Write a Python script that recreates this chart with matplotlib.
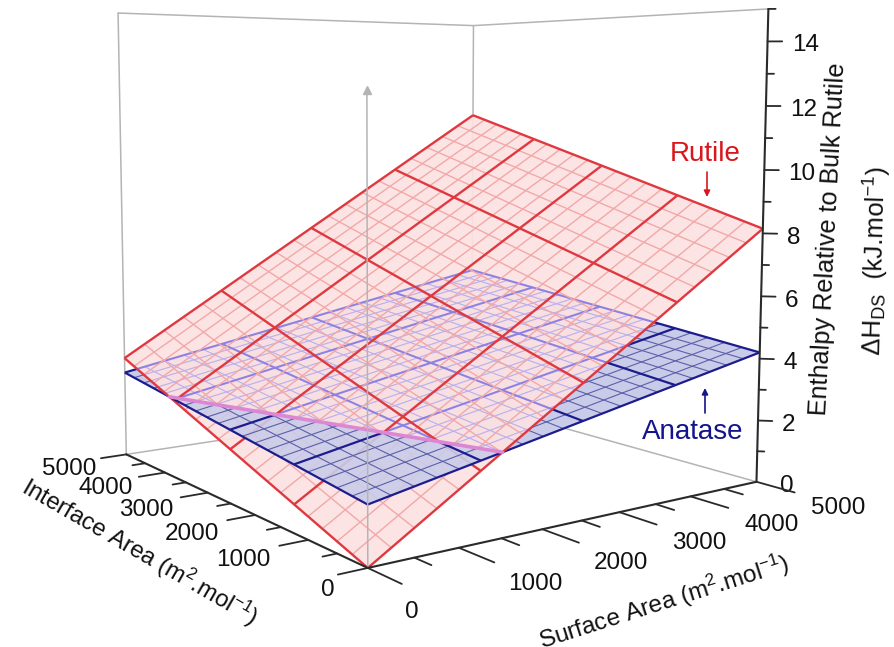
import numpy as np
import matplotlib
matplotlib.use("Agg")
import matplotlib.pyplot as plt
from mpl_toolkits.mplot3d import proj3d
from mpl_toolkits.mplot3d.art3d import Line3DCollection, Poly3DCollection
from matplotlib.path import Path
from matplotlib.transforms import IdentityTransform

plt.rcParams['font.family'] = ['Liberation Sans', 'DejaVu Sans']
plt.rcParams['mathtext.fontset'] = 'custom'
plt.rcParams['mathtext.rm'] = 'Liberation Sans'
plt.rcParams['mathtext.default'] = 'regular'

W, H = 895, 647

# corner heights: (0,0), (5000,0), (0,5000), (5000,5000)
rutile_z = [0.0, 8.15, 3.35, 11.5]
anatase_z = [1.7, 4.2, 2.85, 5.35]
area_ticks = [0, 1000, 2000, 3000, 4000, 5000]
area_minor = [500, 1500, 2500, 3500, 4500]
enthalpy_ticks = [2, 4, 6, 8, 10, 12, 14]
enthalpy_minor = [1, 3, 5, 7, 9, 11, 13]
grid_major = [0, 1250, 2500, 3750, 5000]
grid_minor = [250, 500, 750, 1000, 1500, 1750, 2000, 2250, 2750, 3000, 3250, 3500,
              4000, 4250, 4500, 4750]

RED, RED_MINOR = '#e0383f', '#f2a8a8'
BLUE, BLUE_MINOR = '#1c1c8e', '#5c5fa8'
LAV, LAV_MINOR = '#8c80e4', '#bcb0ec'
GRAY = '#b4b4b4'
AXC = '#2a2a2a'
TXT = '#111111'


def height(c, x, y):
    u, v = x / 5000.0, y / 5000.0
    return c[0]*(1-u)*(1-v) + c[1]*u*(1-v) + c[2]*(1-u)*v + c[3]*u*v


def diff(x, y):
    return height(rutile_z, x, y) - height(anatase_z, x, y)


def clip_poly(poly, sign):
    # keep the part of a polygon on one side of the plane crossing
    out = []
    for i in range(len(poly)):
        a, b = poly[i], poly[(i + 1) % len(poly)]
        da, db = sign * diff(*a), sign * diff(*b)
        if da >= 0:
            out.append(a)
        if da * db < 0:
            t = da / (da - db)
            out.append((a[0] + t * (b[0] - a[0]), a[1] + t * (b[1] - a[1])))
    return out


def clip_seg(a, b, sign):
    da, db = sign * diff(*a), sign * diff(*b)
    if da < 0 and db < 0:
        return None
    if da * db < 0:
        t = da / (da - db)
        m = (a[0] + t * (b[0] - a[0]), a[1] + t * (b[1] - a[1]))
        return (a, m) if da > 0 else (m, b)
    return (a, b)


def grid_segs(c, values, sign=0):
    segs = []
    for g in values:
        for a, b in (((g, 0), (g, 5000)), ((0, g), (5000, g))):
            s = (a, b) if sign == 0 else clip_seg(a, b, sign)
            if s is not None:
                segs.append([(p[0], p[1], height(c, p[0], p[1])) for p in s])
    return segs


def fill(c, poly, color, alpha, z):
    verts = [[(p[0], p[1], height(c, p[0], p[1])) for p in poly]]
    pc = Poly3DCollection(verts, facecolors=color, edgecolors='none', alpha=alpha, zorder=z)
    ax.add_collection3d(pc)
    return pc


def lines(segs, color, lw, z):
    lc = Line3DCollection(segs, colors=color, linewidths=lw, zorder=z)
    ax.add_collection3d(lc)
    return lc


def seg3(p, q, color, lw, z=10):
    ax.plot([p[0], q[0]], [p[1], q[1]], [p[2], q[2]], color=color, lw=lw, zorder=z,
            clip_on=False, solid_capstyle='round')


fig = plt.figure(figsize=(W / 100, H / 100), dpi=100)
L = 0.185 * 4165.28
ax = fig.add_axes([35.43 / W, 8.39 / H, L / W, L / H], projection='3d')
ax.set_xlim(0, 5000, view_margin=0)
ax.set_ylim(0, 5000, view_margin=0)
ax.set_zlim(0, 15, view_margin=0)
ax.set_axis_off()
ax.patch.set_alpha(0)
ax.computed_zorder = False
ax.view_init(5.8063, -125.923, -0.1426)
ax.set_proj_type('persp', focal_length=0.3567)
ax.set_box_aspect((1, 1.0062, 1.0048))

# back frame
for p, q in [((0, 5000, 0), (5000, 5000, 0)), ((5000, 5000, 0), (5000, 0, 0)),
             ((0, 5000, 0), (0, 5000, 15)), ((5000, 5000, 0), (5000, 5000, 15)),
             ((0, 5000, 15), (5000, 5000, 15)), ((5000, 5000, 15), (5000, 0, 15))]:
    seg3(p, q, GRAY, 1.1, z=1)

square = [(0, 0), (5000, 0), (5000, 5000), (0, 5000)]
low = clip_poly(square, 1)
high = clip_poly(square, -1)

# anatase under the rutile sheet
fill(anatase_z, low, '#c9cce9', 1.0, 2)
lines(grid_segs(anatase_z, grid_minor, 1), BLUE_MINOR, 0.8, 3)
lines(grid_segs(anatase_z, grid_major, 1), BLUE, 1.6, 3)

# rutile sheet
fill(rutile_z, square, '#fce2e2', 0.93, 4)

# anatase lines seen through the rutile sheet
ax.apply_aspect()
ax.M = ax.get_proj()
sx = np.array([p[0] for p in square], float)
sy = np.array([p[1] for p in square], float)
sz = np.array([height(rutile_z, a, b) for a, b in square])
px, py, _ = proj3d.proj_transform(sx, sy, sz, ax.M)
disp = ax.transData.transform(np.column_stack([px, py]))
red_path = Path(np.vstack([disp, disp[0]]), closed=True)
for segs, col, lw in [(grid_segs(anatase_z, grid_minor, 1), LAV_MINOR, 0.8),
                      (grid_segs(anatase_z, grid_major, 1), LAV, 1.4)]:
    lc = lines(segs, col, lw, 5)
    lc.set_clip_path(red_path, IdentityTransform())

lines(grid_segs(rutile_z, grid_minor), RED_MINOR, 1.0, 6)
lines(grid_segs(rutile_z, grid_major), RED, 1.7, 6)

# anatase poking above the rutile sheet
fill(anatase_z, high, '#c9cce9', 0.9, 7)
lines(grid_segs(anatase_z, grid_minor, -1), BLUE_MINOR, 0.8, 8)
lines(grid_segs(anatase_z, grid_major, -1), BLUE, 1.6, 8)

# crossing line
c1 = [p for p in high if abs(diff(*p)) < 1e-6]
seg3((c1[0][0], c1[0][1], height(rutile_z, *c1[0])), (c1[1][0], c1[1][1], height(rutile_z, *c1[1])),
     '#dc86d4', 2.6, z=9)

# grey vertical arrow at the front corner
seg3((0, 0, 0), (0, 0, 12.45), GRAY, 1.1, z=9)
ax.plot([0], [0], [12.45], marker='^', ms=5.5, color=GRAY, zorder=9, clip_on=False)

# axes
seg3((0, 0, 0), (0, 5000, 0), AXC, 1.5)
seg3((0, 0, 0), (5000, 0, 0), AXC, 1.5)
seg3((5000, 0, 0), (5000, 0, 15), AXC, 1.5)

for v in area_ticks:
    seg3((0, v, 0), (-310, v, 0), AXC, 1.3)
    seg3((v, 0, 0), (v, -520, 0), AXC, 1.3)
for v in area_minor:
    seg3((0, v, 0), (-155, v, 0), AXC, 1.3)
    seg3((v, 0, 0), (v, -260, 0), AXC, 1.3)
for v in enthalpy_ticks:
    seg3((5000, 0, v), (5105, -105, v), AXC, 1.3)
for v in enthalpy_minor + [15]:
    seg3((5000, 0, v), (5052, -52, v), AXC, 1.3)

TF = 17.5
for v in area_ticks[1:]:
    ax.text(-690, v, -0.2, str(v), fontsize=TF, ha='center', va='center', color=TXT, clip_on=False)
    ax.text(v, -1080, -0.12, str(v), fontsize=TF, ha='center', va='center', color=TXT, clip_on=False)
ax.text(-520, -170, -0.15, "0", fontsize=TF, ha='center', va='center', color=TXT, clip_on=False)
ax.text(-270, -1050, -0.1, "0", fontsize=TF, ha='center', va='center', color=TXT, clip_on=False)
for v in enthalpy_ticks + [0]:
    ax.text(5175, -175, v - 0.12, str(v), fontsize=TF, ha='left', va='center', color=TXT, clip_on=False)

fig.text(140 / W, 1 - 552 / H, r"Interface Area (m$^{2}$.mol$^{-1}$)", fontsize=17.2, rotation=-30,
         rotation_mode='anchor', ha='center', va='center', color=TXT)
fig.text(664 / W, 1 - 602 / H, r"Surface Area (m$^{2}$.mol$^{-1}$)", fontsize=TF, rotation=17.6,
         rotation_mode='anchor', ha='center', va='center', color=TXT)
fig.text(828 / W, 1 - 239 / H, "Enthalpy Relative to Bulk Rutile", fontsize=18.2, rotation=87,
         rotation_mode='anchor', ha='center', va='center', color=TXT)
fig.text(875 / W, 1 - 261 / H, r"ΔH$_{DS}$  (kJ.mol$^{-1}$)", fontsize=18.5, rotation=88.5,
         rotation_mode='anchor', ha='center', va='center', color=TXT)

fig.text(705 / W, 1 - 154 / H, "Rutile", fontsize=20, color='#d9161c', ha='center', va='center')
fig.text(693 / W, 1 - 432 / H, "Anatase", fontsize=20, color='#14148c', ha='center', va='center')
ax.annotate('', xy=(707, H - 197), xytext=(707, H - 172), xycoords='figure pixels',
            textcoords='figure pixels', arrowprops=dict(arrowstyle='-|>', color='#d9161c', lw=1.2, mutation_scale=9, shrinkA=0, shrinkB=0))
ax.annotate('', xy=(705, H - 388), xytext=(705, H - 413), xycoords='figure pixels',
            textcoords='figure pixels', arrowprops=dict(arrowstyle='-|>', color='#14148c', lw=1.2, mutation_scale=9, shrinkA=0, shrinkB=0))

fig.savefig("out.png", dpi=100)
